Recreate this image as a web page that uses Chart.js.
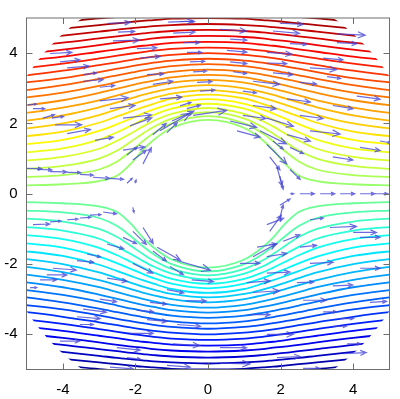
<!DOCTYPE html>
<html>
<head>
<meta charset="utf-8">
<script src="https://cdn.jsdelivr.net/npm/chart.js@4.4.0/dist/chart.umd.min.js"></script>
<style>
  html, body { margin: 0; padding: 0; background: #fff; }
  #wrap { width: 400px; height: 399px; }
</style>
</head>
<body>
<div id="wrap"><canvas id="flow"></canvas></div>
<script>
// stream function levels (upper half; lower half uses the negatives)
const levels = [0.2, 0.4, 0.6, 0.8, 1.0, 1.2, 1.4, 1.6, 1.8, 2.0, 2.2, 2.4, 2.6, 2.8, 3.0, 3.2, 3.4, 3.6, 3.8, 4.0, 4.2, 4.4];

// x positions where each streamline was read (mirrored for x < 0)
const xCols = [0, 1, 1.5, 1.8, 2.1, 2.5, 3, 4, 5, 6];

// height of each streamline at those x positions
const yAtX0  = [2.10, 2.21, 2.32, 2.44, 2.56, 2.69, 2.82, 2.95, 3.09, 3.24, 3.38, 3.53, 3.69, 3.84, 4.00, 4.16, 4.32, 4.49, 4.66, 4.83, 5.00, 5.17];
const yAtX1  = [1.87, 2.00, 2.14, 2.27, 2.42, 2.56, 2.71, 2.85, 3.00, 3.16, 3.31, 3.47, 3.63, 3.79, 3.95, 4.12, 4.29, 4.46, 4.63, 4.80, 4.98, 5.15];
const yAtX15 = [1.53, 1.72, 1.90, 2.07, 2.24, 2.40, 2.56, 2.73, 2.89, 3.06, 3.22, 3.39, 3.56, 3.73, 3.90, 4.07, 4.24, 4.42, 4.59, 4.77, 4.94, 5.12];
const yAtX18 = [1.24, 1.49, 1.71, 1.91, 2.10, 2.28, 2.46, 2.64, 2.81, 2.99, 3.16, 3.33, 3.51, 3.68, 3.86, 4.03, 4.21, 4.38, 4.56, 4.74, 4.92, 5.10];
const yAtX21 = [0.88, 1.23, 1.50, 1.73, 1.95, 2.15, 2.35, 2.54, 2.72, 2.91, 3.09, 3.27, 3.45, 3.63, 3.81, 3.99, 4.17, 4.35, 4.53, 4.71, 4.89, 5.07];
const yAtX25 = [0.52, 0.92, 1.23, 1.51, 1.75, 1.98, 2.20, 2.40, 2.60, 2.80, 2.99, 3.18, 3.37, 3.56, 3.74, 3.93, 4.11, 4.30, 4.48, 4.67, 4.85, 5.03];
const yAtX3  = [0.36, 0.69, 1.00, 1.28, 1.54, 1.79, 2.02, 2.24, 2.46, 2.66, 2.87, 3.07, 3.27, 3.46, 3.66, 3.85, 4.04, 4.23, 4.42, 4.61, 4.80, 4.99];
const yAtX4  = [0.27, 0.53, 0.79, 1.05, 1.29, 1.53, 1.77, 2.00, 2.23, 2.45, 2.66, 2.88, 3.09, 3.29, 3.50, 3.70, 3.90, 4.10, 4.30, 4.50, 4.70, 4.89];
const yAtX5  = [0.24, 0.48, 0.71, 0.95, 1.18, 1.41, 1.64, 1.86, 2.08, 2.30, 2.52, 2.74, 2.95, 3.17, 3.37, 3.58, 3.79, 3.99, 4.20, 4.40, 4.60, 4.80];
const yAtX6  = [0.22, 0.45, 0.68, 0.90, 1.12, 1.34, 1.56, 1.78, 2.00, 2.22, 2.43, 2.65, 2.86, 3.07, 3.29, 3.49, 3.70, 3.91, 4.11, 4.32, 4.52, 4.72];

// velocity arrows: base point and vector
const arrowX = [
  -2.75, -2.48, -1.10, -4.35, -2.62, -0.96, -4.08, -1.96, -3.88, -3.44, -1.87, -3.44, -2.98, -1.68, -1.52, -1.32,
  -4.96, -4.82, -4.55, -4.30, -2.98, -2.70, -2.34, -2.15, -4.21, -3.88, -3.11, -2.34, -2.23, -2.07, -1.79, -1.52,
  -1.13, -0.99, -4.99, -4.71, -4.35, -3.88, -3.53, -3.17, -2.70, -2.23, -2.01,
  -0.77, -0.69, -0.58, -0.50, -0.41, -0.30, -0.22, -0.77, -0.58,
  -0.41, -1.32, 0.80, 1.62, 1.90, -1.79, -1.40, -0.85, 1.24, 1.70, 1.98, -2.07,
  1.98, 3.55, 0.33, 1.79, 0.61, 3.55, 2.26, 0.52, 1.62, 3.17, 0.61, 2.81, 1.62, 0.69, 1.79, 3.28,
  1.24, 2.53, 4.10, 0.96, 2.18, 1.24, 3.44, 0.96, 2.53, 0.61, 1.62, 2.81, 1.43, 2.18, 4.19, 4.74,
  1.79, 2.26, 3.44, 1.70, 2.26, 1.98, 2.26, 2.53, 3.09, 3.64, 4.19, 4.60,
  1.98, 2.81, 1.62, 3.36, 4.00, 4.19, 2.07, 1.35, 2.53, 1.62, 0.88, 2.81, 1.62, 4.19, 1.07, 2.45,
  3.44, 1.24, 4.46, 2.62, 3.17, 1.16, 3.64, 3.44, 1.62, 0.33, 3.83, 1.90, 3.72, 2.62, 0.33,
  -2.89, -4.82, -4.35, -3.88, -3.53, -3.25, -2.07, -2.34, -2.78, -3.33, -1.52, -3.61, -2.07, -4.27, -4.44, -1.05,
  -4.63, -2.78, -4.90, -1.13, -2.98, -1.60, -3.44, -1.96, -3.61, -1.68, -3.53, -2.15, -0.85, -4.08, -0.96, -2.51,
  -2.23, -2.70, -1.13, -0.60, -0.45
];
const arrowY = [
  4.85, 4.60, 4.88, 3.99, 4.35, 4.57, 3.75, 4.13, 3.58, 3.39, 3.86, 3.20, 3.03, 3.39, 3.11, 2.70,
  2.53, 2.42, 2.15, 2.15, 2.64, 2.42, 2.15, 1.93, 1.96, 1.71, 1.52, 1.24, 1.10, 0.96, 0.85, 1.68,
  1.74, 2.07, 0.72, 0.69, 0.63, 0.61, 0.55, 0.47, 0.44, 0.30, 0.30,
  4.90, 4.30, 4.02, 3.75, 3.47, 3.17, 2.92, 2.50, 2.42,
  2.23, 1.79, 1.79, 1.40, 0.77, -0.96, -1.52, -1.90, -1.79, -1.07, -0.69, -0.39,
  4.85, 4.55, 4.68, 4.63, 4.40, 4.30, 4.27, 4.08, 4.02, 3.86, 3.75, 3.58, 3.72, 3.47, 3.44, 3.33,
  3.20, 3.17, 2.78, 2.92, 2.70, 2.51, 2.51, 2.23, 2.23, 2.07, 2.15, 1.79, 1.79, 1.68, 1.32, 1.50,
  1.50, 1.32, 1.05, 1.05, 0.69, 0.50, 0.00, 0.00, 0.00, 0.00, 0.00, 0.00,
  -0.33, -0.74, -0.88, -0.96, -1.10, -1.24, -1.35, -1.52, -1.52, -1.79, -1.98, -1.98, -2.26, -2.12, -2.53, -2.53,
  -2.62, -2.81, -3.09, -3.03, -3.36, -3.44, -3.55, -3.77, -4.00, -4.38, -4.27, -4.66, -4.55, -4.97, -4.82,
  -0.52, -0.88, -0.80, -0.74, -0.69, -0.61, -1.07, -1.24, -1.43, -1.71, -1.63, -1.90, -1.98, -2.12, -2.31, -2.07,
  -2.45, -2.40, -2.67, -2.73, -3.00, -3.09, -3.28, -3.31, -3.50, -3.58, -3.72, -3.97, -3.72, -4.19, -4.27, -4.38,
  -4.66, -4.93, -4.88, -3.05, -2.45
];
const arrowU = [
  0.61, 0.46, 0.69, 0.60, 0.73, 0.60, 0.55, 0.55, 0.60, 0.37, 0.55, 0.55, 0.41, 0.46, 0.55, 0.60,
  0.23, 0.32, 0.32, 0.32, 0.78, 0.69, 0.78, 0.60, 0.73, 0.64, 0.50, 0.60, 0.28, 0.37, 0.23, 0.37,
  0.28, 0.60, 0.41, 0.41, 0.46, 0.37, 0.37, 0.46, 0.37, 0.14, 0.03,
  0.40, 0.46, 0.41, 0.41, 0.37, 0.41, 0.41, 0.30, 0.37,
  0.92, 0.83, 0.64, 0.55, 0.14, 0.28, 0.64, 0.92, 0.64, 0.32, 0.09, 0.03,
  0.64, 0.78, 0.73, 0.73, 0.46, 0.55, 0.46, 0.55, 0.69, 0.55, 0.46, 0.73, 0.55, 0.37, 0.55, 0.37,
  0.73, 0.46, 0.64, 0.37, 0.64, 0.64, 0.55, 0.64, 0.64, 0.73, 0.73, 0.83, 0.73, 0.64, 0.55, 0.28,
  0.28, 0.37, 0.55, 0.28, 0.28, 0.09, 0.10, 0.40, 0.40, 0.40, 0.40, 0.35,
  0.28, 0.37, 0.46, 0.73, 0.64, 0.55, 0.46, 0.55, 0.46, 0.55, 0.55, 0.64, 0.64, 0.55, 0.64, 0.46,
  0.55, 0.73, 0.46, 0.64, 0.37, 0.55, 0.37, 0.37, 0.73, 0.73, 0.37, 0.64, 0.64, 0.46, 0.83,
  0.37, 0.46, 0.30, 0.30, 0.30, 0.30, 0.37, 0.37, 0.46, 0.37, 0.37, 0.46, 0.55, 0.64, 0.55, 0.37,
  0.46, 0.55, 0.18, 0.46, 0.46, 0.46, 0.64, 0.46, 0.64, 0.55, 0.37, 0.64, 0.64, 0.55, 0.73, 0.64,
  0.37, 0.64, 0.64, 0.55, 0.60
];
const arrowV = [
  0.02, 0.02, 0.03, 0.03, 0.02, 0.03, 0.06, 0.02, 0.05, 0.05, 0.05, 0.05, 0.05, 0.02, 0.09, 0.05,
  0.02, 0.00, 0.10, 0.05, 0.09, 0.09, 0.09, 0.23, 0.00, 0.12, 0.09, 0.09, 0.23, 0.28, 0.46, 0.32,
  0.28, 0.28, -0.01, -0.01, -0.01, -0.01, -0.02, -0.03, -0.03, 0.14, 0.09,
  0.00, 0.00, 0.00, 0.02, 0.02, 0.02, 0.03, 0.10, 0.10,
  0.14, 0.50, -0.18, -0.55, -0.55, -0.46, -0.37, -0.28, 0.37, 0.46, 0.37, -0.14,
  -0.03, -0.04, -0.05, -0.07, -0.03, -0.03, -0.02, -0.05, -0.05, -0.05, -0.05, -0.05, -0.02, -0.05, -0.05, -0.05,
  -0.09, -0.05, -0.09, -0.05, -0.09, -0.09, -0.09, -0.09, -0.09, -0.18, -0.23, -0.09, -0.37, -0.18, -0.09, -0.05,
  -0.23, -0.18, -0.09, -0.37, -0.28, -0.37, 0.00, 0.00, 0.00, 0.00, 0.00, 0.00,
  0.18, 0.05, 0.18, 0.03, 0.00, 0.00, 0.18, 0.09, 0.05, 0.09, 0.00, 0.03, 0.03, 0.00, 0.05, 0.02,
  0.02, 0.05, 0.03, 0.00, 0.00, 0.00, 0.00, 0.00, 0.00, 0.00, 0.00, 0.03, 0.03, 0.00, -0.02,
  -0.05, 0.02, 0.02, 0.02, 0.02, 0.02, -0.37, -0.18, -0.14, -0.09, -0.28, -0.05, -0.28, -0.05, 0.00, -0.23,
  0.00, -0.09, 0.00, -0.09, -0.07, -0.05, -0.09, -0.05, -0.05, -0.05, 0.00, 0.00, -0.05, 0.00, -0.05, -0.07,
  -0.05, -0.05, -0.05, 0.00, -0.05
];

const xTicks = [-4, -2, 0, 2, 4];
const yTicks = [-4, -2, 0, 2, 4];

const psiMax = 4.6;        // colour range of the stream function
const domainRadius = 5.95; // outer edge of the computed region

const yCols = [yAtX0, yAtX1, yAtX15, yAtX18, yAtX21, yAtX25, yAtX3, yAtX4, yAtX5, yAtX6];

function jet(t) {
  const c = v => Math.max(0, Math.min(1, v));
  const r = c(1.5 - Math.abs(4 * t - 3));
  const g = c(1.5 - Math.abs(4 * t - 2));
  const b = c(1.5 - Math.abs(4 * t - 1));
  return `rgb(${Math.round(r * 255)},${Math.round(g * 255)},${Math.round(b * 255)})`;
}

function linePoints(i, sign) {
  const pts = [];
  for (let j = xCols.length - 1; j > 0; j--) pts.push({ x: -xCols[j], y: sign * yCols[j][i] });
  for (let j = 0; j < xCols.length; j++) pts.push({ x: xCols[j], y: sign * yCols[j][i] });
  return pts;
}

const datasets = [];
levels.forEach((psi, i) => {
  [1, -1].forEach(sign => {
    datasets.push({
      data: linePoints(i, sign),
      showLine: true,
      borderColor: jet(0.5 + sign * psi / (2 * psiMax)),
      borderWidth: 1.8,
      pointRadius: 0,
      cubicInterpolationMode: 'monotone',
      fill: false
    });
  });
});

const fieldPlugin = {
  id: 'field',
  beforeDatasetsDraw(chart) {
    const { ctx, scales: { x, y } } = chart;
    const cx = x.getPixelForValue(0), cy = y.getPixelForValue(0);
    const r = x.getPixelForValue(domainRadius) - cx;
    ctx.save();
    ctx.beginPath();
    ctx.arc(cx, cy, r, 0, Math.PI * 2);
    ctx.clip();
  },
  afterDatasetsDraw(chart) {
    const { ctx, chartArea: a, scales: { x, y } } = chart;
    ctx.restore();
    ctx.save();
    ctx.beginPath();
    ctx.rect(a.left, a.top, a.width, a.height);
    ctx.clip();
    ctx.strokeStyle = 'rgba(70,70,215,0.8)';
    ctx.lineWidth = 1.2;
    arrowX.forEach((ax, k) => {
      const x0 = x.getPixelForValue(ax), y0 = y.getPixelForValue(arrowY[k]);
      const x1 = x.getPixelForValue(ax + arrowU[k]), y1 = y.getPixelForValue(arrowY[k] + arrowV[k]);
      const len = Math.hypot(x1 - x0, y1 - y0);
      const ang = Math.atan2(y1 - y0, x1 - x0);
      const head = Math.max(2.5, len * 0.28);
      ctx.beginPath();
      ctx.moveTo(x0, y0);
      ctx.lineTo(x1, y1);
      ctx.moveTo(x1 - head * Math.cos(ang - 0.4), y1 - head * Math.sin(ang - 0.4));
      ctx.lineTo(x1, y1);
      ctx.lineTo(x1 - head * Math.cos(ang + 0.4), y1 - head * Math.sin(ang + 0.4));
      ctx.stroke();
    });
    ctx.restore();
  },
  afterDraw(chart) {
    const { ctx, chartArea: a, scales: { x, y } } = chart;
    const tl = 6;
    ctx.save();
    ctx.strokeStyle = '#6e6e6e';
    ctx.lineWidth = 1;
    ctx.strokeRect(a.left, a.top, a.width, a.height);
    ctx.beginPath();
    xTicks.forEach(v => {
      const px = Math.round(x.getPixelForValue(v)) + 0.5;
      ctx.moveTo(px, a.bottom); ctx.lineTo(px, a.bottom - tl);
      ctx.moveTo(px, a.top); ctx.lineTo(px, a.top + tl);
    });
    yTicks.forEach(v => {
      const py = Math.round(y.getPixelForValue(v)) + 0.5;
      ctx.moveTo(a.left, py); ctx.lineTo(a.left + tl, py);
      ctx.moveTo(a.right, py); ctx.lineTo(a.right - tl, py);
    });
    ctx.stroke();
    ctx.restore();
  }
};

const tickFont = { family: "'Liberation Sans', Arial, sans-serif", size: 15 };

new Chart(document.getElementById('flow'), {
  type: 'scatter',
  data: { datasets },
  options: {
    responsive: true,
    maintainAspectRatio: false,
    devicePixelRatio: 1,
    animation: false,
    layout: { padding: { top: 6.5, right: 10.5, left: 0, bottom: 0 } },
    plugins: { legend: { display: false }, tooltip: { enabled: false } },
    scales: {
      x: {
        type: 'linear', min: -5, max: 5,
        grid: { display: false, drawTicks: false }, border: { display: false },
        afterBuildTicks: s => { s.ticks = xTicks.map(v => ({ value: v })); },
        afterFit: s => { s.height = 29.5; },
        ticks: { color: '#000', font: tickFont, padding: 11, maxRotation: 0 }
      },
      y: {
        type: 'linear', min: -5, max: 5,
        grid: { display: false, drawTicks: false }, border: { display: false },
        afterBuildTicks: s => { s.ticks = yTicks.map(v => ({ value: v })); },
        afterFit: s => { s.width = 26.5; },
        ticks: { color: '#000', font: tickFont, padding: 9 }
      }
    }
  },
  plugins: [fieldPlugin]
});
</script>
</body>
</html>
